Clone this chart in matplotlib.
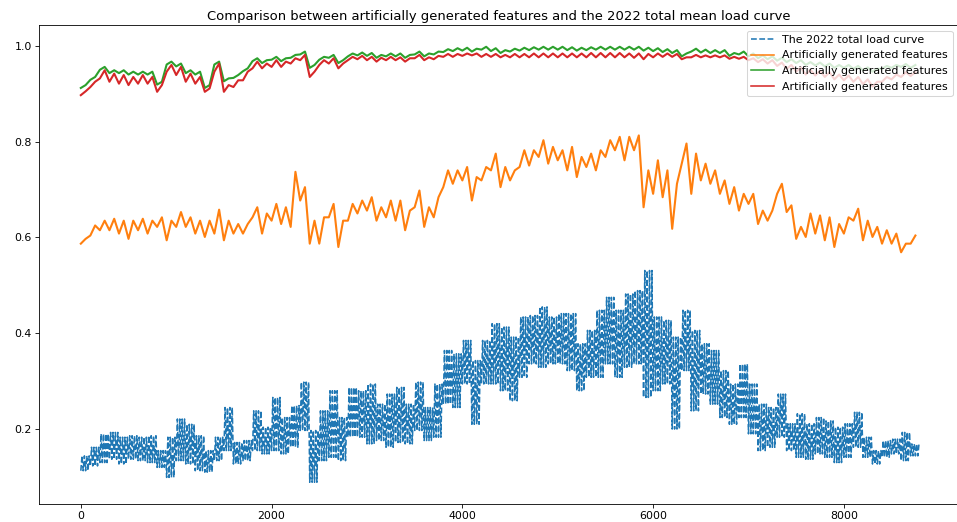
import numpy as np
import matplotlib
matplotlib.use("Agg")
import matplotlib.pyplot as plt

# hourly index of the year, one sample block every 100 h
hours = list(range(0, 8760, 100))

# block minimum / maximum of each curve (normalised load)
load_lo = [0.113, 0.123, 0.130, 0.137, 0.127, 0.137, 0.134, 0.130, 0.120, 0.099,
           0.134, 0.127, 0.113, 0.110, 0.134, 0.155, 0.127, 0.134, 0.155, 0.148,
           0.155, 0.148, 0.162, 0.197, 0.089, 0.134, 0.141, 0.134, 0.183, 0.183,
           0.169, 0.176, 0.162, 0.172, 0.169, 0.197, 0.176, 0.183, 0.252, 0.245,
           0.294, 0.210, 0.294, 0.294, 0.280, 0.259, 0.308, 0.336, 0.329, 0.336,
           0.336, 0.322, 0.280, 0.308, 0.308, 0.336, 0.308, 0.329, 0.336, 0.266,
           0.280, 0.294, 0.200, 0.322, 0.238, 0.273, 0.252, 0.224, 0.210, 0.224,
           0.190, 0.155, 0.162, 0.183, 0.155, 0.141, 0.137, 0.148, 0.141, 0.130,
           0.141, 0.162, 0.141, 0.127, 0.141, 0.148, 0.134, 0.144]
load_hi = [0.144, 0.162, 0.190, 0.193, 0.183, 0.186, 0.183, 0.186, 0.155, 0.183,
           0.221, 0.210, 0.186, 0.155, 0.183, 0.245, 0.172, 0.176, 0.238, 0.204,
           0.266, 0.224, 0.249, 0.298, 0.197, 0.238, 0.280, 0.224, 0.287, 0.280,
           0.294, 0.252, 0.273, 0.287, 0.252, 0.298, 0.245, 0.294, 0.364, 0.357,
           0.385, 0.343, 0.385, 0.420, 0.413, 0.392, 0.434, 0.437, 0.455, 0.434,
           0.441, 0.441, 0.378, 0.406, 0.448, 0.475, 0.448, 0.482, 0.489, 0.531,
           0.434, 0.427, 0.392, 0.448, 0.406, 0.378, 0.364, 0.322, 0.294, 0.336,
           0.294, 0.252, 0.245, 0.273, 0.211, 0.232, 0.211, 0.224, 0.217, 0.204,
           0.211, 0.235, 0.183, 0.155, 0.176, 0.179, 0.193, 0.169]

feat1_lo = [0.587, 0.604, 0.615, 0.615, 0.608, 0.597, 0.615, 0.608, 0.622, 0.594,
            0.622, 0.622, 0.608, 0.601, 0.608, 0.594, 0.608, 0.608, 0.642, 0.608,
            0.635, 0.628, 0.622, 0.677, 0.587, 0.587, 0.642, 0.580, 0.635, 0.650,
            0.656, 0.635, 0.642, 0.635, 0.615, 0.663, 0.622, 0.642, 0.705, 0.712,
            0.719, 0.677, 0.719, 0.740, 0.705, 0.719, 0.747, 0.750, 0.768, 0.754,
            0.761, 0.740, 0.726, 0.747, 0.740, 0.768, 0.782, 0.761, 0.782, 0.663,
            0.691, 0.684, 0.618, 0.754, 0.691, 0.719, 0.712, 0.691, 0.670, 0.656,
            0.670, 0.628, 0.635, 0.691, 0.653, 0.597, 0.601, 0.608, 0.594, 0.580,
            0.608, 0.635, 0.594, 0.601, 0.587, 0.587, 0.569, 0.587]
feat1_hi = [0.597, 0.625, 0.635, 0.639, 0.635, 0.635, 0.639, 0.635, 0.642, 0.635,
            0.653, 0.642, 0.635, 0.635, 0.658, 0.635, 0.628, 0.628, 0.663, 0.650,
            0.670, 0.663, 0.737, 0.705, 0.635, 0.642, 0.670, 0.635, 0.670, 0.677,
            0.684, 0.663, 0.677, 0.677, 0.656, 0.698, 0.663, 0.684, 0.740, 0.740,
            0.747, 0.726, 0.747, 0.775, 0.747, 0.740, 0.782, 0.782, 0.803, 0.789,
            0.782, 0.789, 0.768, 0.775, 0.782, 0.803, 0.810, 0.810, 0.813, 0.740,
            0.761, 0.740, 0.712, 0.796, 0.775, 0.754, 0.740, 0.719, 0.705, 0.691,
            0.691, 0.656, 0.656, 0.712, 0.667, 0.622, 0.650, 0.646, 0.642, 0.628,
            0.642, 0.660, 0.635, 0.622, 0.615, 0.608, 0.587, 0.604]

feat2_lo = [0.912, 0.929, 0.950, 0.943, 0.943, 0.940, 0.940, 0.940, 0.919, 0.961,
            0.957, 0.943, 0.940, 0.912, 0.961, 0.926, 0.933, 0.947, 0.968, 0.964,
            0.971, 0.968, 0.975, 0.982, 0.954, 0.971, 0.975, 0.964, 0.978, 0.980,
            0.979, 0.975, 0.978, 0.978, 0.975, 0.982, 0.978, 0.982, 0.987, 0.989,
            0.990, 0.988, 0.992, 0.989, 0.985, 0.988, 0.990, 0.991, 0.992, 0.992,
            0.992, 0.991, 0.990, 0.991, 0.992, 0.992, 0.992, 0.992, 0.992, 0.990,
            0.989, 0.987, 0.985, 0.978, 0.988, 0.986, 0.985, 0.985, 0.979, 0.982,
            0.978, 0.974, 0.972, 0.969, 0.966, 0.964, 0.960, 0.959, 0.957, 0.954,
            0.954, 0.952, 0.949, 0.946, 0.952, 0.954, 0.956, 0.954]
feat2_hi = [0.918, 0.935, 0.956, 0.949, 0.949, 0.946, 0.946, 0.946, 0.925, 0.967,
            0.963, 0.949, 0.946, 0.918, 0.967, 0.932, 0.939, 0.953, 0.974, 0.970,
            0.977, 0.974, 0.981, 0.988, 0.960, 0.977, 0.981, 0.970, 0.984, 0.986,
            0.985, 0.981, 0.984, 0.984, 0.981, 0.988, 0.984, 0.988, 0.993, 0.995,
            0.996, 0.994, 0.998, 0.995, 0.991, 0.994, 0.996, 0.997, 0.998, 0.998,
            0.998, 0.997, 0.996, 0.997, 0.998, 0.998, 0.998, 0.998, 0.998, 0.996,
            0.995, 0.993, 0.991, 0.984, 0.994, 0.992, 0.991, 0.991, 0.985, 0.988,
            0.984, 0.980, 0.978, 0.975, 0.972, 0.970, 0.966, 0.965, 0.963, 0.960,
            0.960, 0.958, 0.955, 0.952, 0.958, 0.960, 0.962, 0.960]

feat3_lo = [0.897, 0.914, 0.932, 0.925, 0.921, 0.918, 0.921, 0.921, 0.904, 0.946,
            0.939, 0.925, 0.921, 0.904, 0.946, 0.904, 0.914, 0.928, 0.953, 0.953,
            0.956, 0.956, 0.963, 0.970, 0.935, 0.960, 0.963, 0.953, 0.970, 0.972,
            0.970, 0.967, 0.970, 0.970, 0.967, 0.974, 0.970, 0.972, 0.977, 0.977,
            0.979, 0.980, 0.977, 0.977, 0.976, 0.976, 0.976, 0.976, 0.976, 0.976,
            0.976, 0.976, 0.976, 0.976, 0.976, 0.976, 0.976, 0.976, 0.975, 0.972,
            0.976, 0.977, 0.977, 0.972, 0.976, 0.976, 0.976, 0.976, 0.973, 0.973,
            0.970, 0.966, 0.963, 0.958, 0.952, 0.946, 0.940, 0.938, 0.935, 0.930,
            0.928, 0.925, 0.920, 0.915, 0.925, 0.930, 0.935, 0.937]
feat3_hi = [0.905, 0.925, 0.949, 0.942, 0.939, 0.935, 0.939, 0.935, 0.918, 0.960,
            0.956, 0.942, 0.935, 0.911, 0.963, 0.918, 0.928, 0.946, 0.967, 0.963,
            0.970, 0.967, 0.974, 0.981, 0.946, 0.970, 0.974, 0.963, 0.977, 0.979,
            0.977, 0.975, 0.977, 0.976, 0.974, 0.981, 0.976, 0.979, 0.983, 0.983,
            0.984, 0.984, 0.983, 0.983, 0.981, 0.983, 0.983, 0.984, 0.984, 0.984,
            0.984, 0.984, 0.984, 0.985, 0.985, 0.985, 0.985, 0.984, 0.984, 0.983,
            0.984, 0.984, 0.983, 0.976, 0.981, 0.980, 0.980, 0.980, 0.977, 0.977,
            0.974, 0.972, 0.970, 0.965, 0.960, 0.955, 0.950, 0.948, 0.945, 0.940,
            0.938, 0.935, 0.930, 0.925, 0.935, 0.940, 0.945, 0.945]


def block_trace(lo, hi, cycles=1):
    """Swing between each block's low and high, `cycles` times per block."""
    step = 50 / cycles
    x, y = [], []
    for h, a, b in zip(hours, lo, hi):
        for k in range(2 * cycles):
            x.append(h + k * step)
            y.append(a if k % 2 == 0 else b)
    return np.array(x), np.array(y)


fig = plt.figure(figsize=(12.76, 6.96), dpi=75)
ax = fig.add_axes([0.0408, 0.0345, 0.9603, 0.9176])

x, y = block_trace(load_lo, load_hi, cycles=4)
ax.plot(x, y, "--", color="tab:blue", label="The 2022 total load curve")
x, y = block_trace(feat1_lo, feat1_hi)
ax.plot(x, y, color="tab:orange", lw=2, label="Artificially generated features")
x, y = block_trace(feat2_lo, feat2_hi)
ax.plot(x, y, color="tab:green", lw=2, label="Artificially generated features")
x, y = block_trace(feat3_lo, feat3_hi)
ax.plot(x, y, color="tab:red", lw=2, label="Artificially generated features")

ax.set_xlim(-438, 9197)
ax.tick_params(labelsize=10.5)
ax.set_title("Comparison between artificially generated features and the 2022 total mean load curve",
             fontsize=12.6, pad=5)
leg = ax.legend(loc="upper right", fontsize=10.6)
for line in leg.get_lines():
    line.set_linewidth(1.5)

fig.savefig("out.png", dpi=75)
